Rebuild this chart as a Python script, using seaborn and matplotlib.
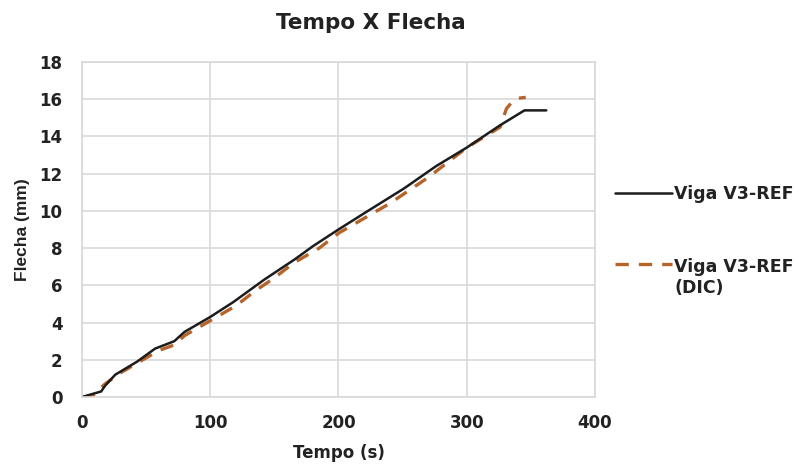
import matplotlib
matplotlib.use("Agg")
import matplotlib.pyplot as plt
from matplotlib.legend_handler import HandlerLine2D
import numpy as np
import seaborn as sns
import pandas as pd

# Data
t_ref = [0, 15, 18, 26, 43, 57, 72, 80, 100, 118, 136, 142, 166, 180, 200, 223, 251, 276, 300, 326, 345, 362]
f_ref = [0, 0.3, 0.6, 1.2, 1.9, 2.6, 3.0, 3.5, 4.3, 5.1, 6.0, 6.3, 7.4, 8.1, 9.0, 10.0, 11.2, 12.4, 13.4, 14.6, 15.4, 15.4]

t_dic = [0, 8, 18, 30, 45, 60, 72, 80, 100, 120, 135, 150, 165, 185, 200, 220, 240, 270, 300, 326, 328, 331, 336, 340, 346]
f_dic = [0, 0.05, 0.7, 1.3, 1.9, 2.5, 2.8, 3.3, 4.1, 4.9, 5.7, 6.4, 7.2, 8.0, 8.8, 9.6, 10.4, 11.8, 13.4, 14.5, 14.9, 15.5, 15.9, 16.05, 16.1]

label_ref = "Viga V3-REF"
label_dic = "Viga V3-REF\n(DIC)"

title = "Tempo X Flecha"
xlabel = "Tempo (s)"
ylabel = "Flecha (mm)"
xticks = [0, 100, 200, 300, 400]
yticks = [0, 2, 4, 6, 8, 10, 12, 14, 16, 18]

sns.set_theme(style="white")
plt.rcParams['font.family'] = ['DejaVu Sans']
plt.rcParams['font.weight'] = 'bold'

TXT = "#222222"

df_ref = pd.DataFrame({"t": t_ref, "f": f_ref})
df_dic = pd.DataFrame({"t": t_dic, "f": f_dic})

fig = plt.figure(figsize=(8.03, 4.66), dpi=100)
ax = fig.add_axes([0.102, 0.148, 0.639, 0.719])

sns.lineplot(data=df_ref, x="t", y="f", ax=ax, color="#1c1c1c", lw=1.8,
             label=label_ref, sort=False, estimator=None)
sns.lineplot(data=df_dic, x="t", y="f", ax=ax, color="#b5652b", lw=2.4,
             label=label_dic, sort=False, estimator=None)
ax.lines[1].set_dashes([4, 3])
ax.lines[1].set_zorder(1)
ax.lines[0].set_zorder(2)

ax.set_xlim(0, 400)
ax.set_ylim(0, 18)
ax.set_xticks(xticks)
ax.set_yticks(yticks)
ax.grid(True, color="#d9d9d9", lw=1.2)
ax.set_axisbelow(True)
for s in ax.spines.values():
    s.set_color("#d9d9d9")
    s.set_linewidth(1.2)
ax.tick_params(axis="both", length=0, labelsize=12, labelcolor=TXT)
ax.tick_params(axis="x", pad=12.5)
ax.tick_params(axis="y", pad=14)
for lab in ax.get_xticklabels() + ax.get_yticklabels():
    lab.set_fontweight("bold")
ax.set_xlabel(xlabel, fontsize=12, fontweight="bold", color=TXT, labelpad=8)
ax.set_ylabel(ylabel, fontsize=12.5, fontweight="bold", color=TXT, labelpad=7,
              family="Liberation Sans")
fig.text(0.462, 0.951, title, ha="center", va="center", fontsize=15.5,
         fontweight="bold", color=TXT)


class FirstLineHandler(HandlerLine2D):
    """Align the legend handle with the first line of a multi-line label."""
    def __init__(self, nlines=1, **kw):
        super().__init__(**kw)
        self.nlines = nlines

    def create_artists(self, legend, orig_handle, xdescent, ydescent, width,
                       height, fontsize, trans):
        arts = super().create_artists(legend, orig_handle, xdescent, ydescent,
                                      width, height, fontsize, trans)
        shift = (0.5 * 1.2 * fontsize + 3.0) * (self.nlines - 1)
        for a in arts:
            a.set_ydata(np.asarray(a.get_ydata()) + shift)
        return arts


handles, labels = ax.get_legend_handles_labels()
ax.get_legend().remove()
handler_map = {h: FirstLineHandler(nlines=l.count("\n") + 1) for h, l in zip(handles, labels)}
leg = fig.legend(handles, labels, loc="center left", bbox_to_anchor=(0.766, 0.483),
                 frameon=False, labelspacing=3.2, handlelength=3.3,
                 handletextpad=0.1, borderpad=0, borderaxespad=0,
                 prop={"weight": "bold", "size": 12.5}, handler_map=handler_map)
for txt in leg.get_texts():
    txt.set_color(TXT)

fig.savefig("out.png", dpi=100)
